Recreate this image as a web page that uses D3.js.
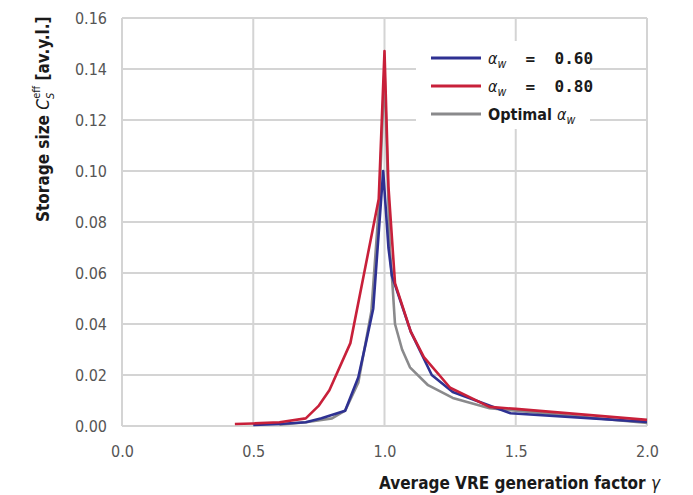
<!DOCTYPE html>
<html>
<head>
<meta charset="utf-8">
<script src="https://cdn.jsdelivr.net/npm/d3@7"></script>
<style>
  body { margin: 0; background: #fff; }
  svg { font-family: "DejaVu Sans Condensed", "DejaVu Sans", sans-serif; }
</style>
</head>
<body>
<svg id="chart" width="693" height="495"></svg>
<script>
// gamma values and storage size for each series
const blueX = [0.50, 0.60, 0.70, 0.76, 0.85, 0.90, 0.93, 0.957, 0.995, 1.015, 1.028, 1.10, 1.18, 1.26, 1.48, 2.00];
const blueY = [0.0004, 0.0008, 0.0015, 0.003, 0.006, 0.019, 0.033, 0.046, 0.100, 0.070, 0.059, 0.037, 0.020, 0.0133, 0.005, 0.0016];

const redX = [0.43, 0.50, 0.60, 0.70, 0.75, 0.79, 0.87, 0.978, 1.00, 1.015, 1.04, 1.10, 1.15, 1.25, 1.40, 1.50, 2.00];
const redY = [0.0008, 0.001, 0.0015, 0.003, 0.008, 0.014, 0.0325, 0.089, 0.147, 0.094, 0.056, 0.037, 0.027, 0.015, 0.0075, 0.0067, 0.0024];

const grayX = [0.60, 0.70, 0.80, 0.85, 0.90, 0.95, 0.98, 1.00, 1.02, 1.03, 1.04, 1.067, 1.097, 1.166, 1.26, 1.40, 2.00];
const grayY = [0.0005, 0.0015, 0.003, 0.006, 0.017, 0.045, 0.088, 0.140, 0.070, 0.056, 0.040, 0.030, 0.023, 0.016, 0.011, 0.007, 0.0012];

const xTicks = [0.0, 0.5, 1.0, 1.5, 2.0];
const yTicks = [0.00, 0.02, 0.04, 0.06, 0.08, 0.10, 0.12, 0.14, 0.16];
const legendValues = ["0.60", "0.80"];

const svg = d3.select("#chart");
const mLeft = 122, mRight = 647, mTop = 18, mBottom = 426;

const x = d3.scaleLinear().domain([0, 2]).range([mLeft, mRight]);
const y = d3.scaleLinear().domain([0, 0.16]).range([mBottom, mTop]);

// grid
const grid = svg.append("g").attr("stroke", "#d4d4d4").attr("stroke-width", 2);
grid.selectAll(".h").data(yTicks).join("line")
  .attr("x1", mLeft).attr("x2", mRight)
  .attr("y1", d => y(d)).attr("y2", d => y(d));
grid.selectAll(".v").data(xTicks).join("line")
  .attr("y1", mTop).attr("y2", mBottom)
  .attr("x1", d => x(d)).attr("x2", d => x(d));

// tick labels
const yAxis = d3.axisLeft(y).tickValues(yTicks).tickFormat(d3.format(".2f")).tickSize(0).tickPadding(15);
svg.append("g").attr("transform", `translate(${mLeft},0)`).call(yAxis)
  .call(g => g.select(".domain").remove())
  .call(g => g.selectAll("text").attr("font-size", 16).attr("fill", "#555")
    .attr("font-family", "DejaVu Sans Condensed, DejaVu Sans, sans-serif"));

const xAxis = d3.axisBottom(x).tickValues(xTicks).tickFormat(d3.format(".1f")).tickSize(0).tickPadding(20);
svg.append("g").attr("transform", `translate(0,${mBottom})`).call(xAxis)
  .call(g => g.select(".domain").remove())
  .call(g => g.selectAll("text").attr("font-size", 16).attr("fill", "#555")
    .attr("font-family", "DejaVu Sans Condensed, DejaVu Sans, sans-serif"));

// lines
const line = d3.line().x(d => x(d[0])).y(d => y(d[1]));
const series = [
  { xs: grayX, ys: grayY, color: "#8a8a8c" },
  { xs: blueX, ys: blueY, color: "#2e3192" },
  { xs: redX, ys: redY, color: "#c8203a" }
];
series.forEach(s => {
  svg.append("path")
    .datum(s.xs.map((v, i) => [v, s.ys[i]]))
    .attr("fill", "none")
    .attr("stroke", s.color)
    .attr("stroke-width", 2.6)
    .attr("stroke-linejoin", "round")
    .attr("d", line);
});

// legend
svg.append("rect").attr("x", 416).attr("y", 41).attr("width", 174).attr("height", 88).attr("fill", "#fff");
const legendItems = [
  { color: "#2e3192", label: legendValues[0] },
  { color: "#c8203a", label: legendValues[1] },
  { color: "#8a8a8c", label: null }
];
legendItems.forEach((d, i) => {
  const ly = 58 + i * 28;
  svg.append("line").attr("x1", 431).attr("x2", 481).attr("y1", ly).attr("y2", ly)
    .attr("stroke", d.color).attr("stroke-width", 3);
  const t = svg.append("text").attr("x", 488).attr("y", ly + 6)
    .attr("font-size", 16).attr("fill", "#1a1a1a").attr("font-weight", "bold");
  if (d.label) {
    t.append("tspan").attr("font-style", "italic").attr("font-weight", "normal").text("α");
    t.append("tspan").attr("font-size", 12).attr("dy", 4).attr("font-style", "italic").attr("font-weight", "normal").text("w");
    t.append("tspan").attr("dy", -4).attr("font-family", "DejaVu Sans Mono, monospace").attr("xml:space", "preserve").text("  =  " + d.label);
  } else {
    t.append("tspan").text("Optimal ");
    t.append("tspan").attr("font-style", "italic").attr("font-weight", "normal").text("α");
    t.append("tspan").attr("font-size", 12).attr("dy", 4).attr("font-style", "italic").attr("font-weight", "normal").text("w");
  }
});

// axis titles
const xt = svg.append("text").attr("x", 660).attr("y", 489).attr("text-anchor", "end")
  .attr("font-size", 17).attr("font-weight", "bold").attr("fill", "#1a1a1a");
xt.append("tspan").text("Average VRE generation factor ");
xt.append("tspan").attr("font-style", "italic").attr("font-weight", "normal").text("γ");

const yt = svg.append("text").attr("transform", "translate(49,222) rotate(-90)")
  .attr("font-size", 17).attr("font-weight", "bold").attr("fill", "#1a1a1a");
yt.append("tspan").text("Storage size ");
yt.append("tspan").attr("font-style", "italic").attr("font-weight", "normal").text("C");
yt.append("tspan").attr("font-size", 11).attr("dy", 5).attr("font-style", "italic").attr("font-weight", "normal").text("S");
yt.append("tspan").attr("font-size", 11).attr("dx", -6).attr("dy", -14).attr("font-weight", "normal").text("eff");
yt.append("tspan").attr("dy", 9).text(" [av.y.l.]");
</script>
</body>
</html>
